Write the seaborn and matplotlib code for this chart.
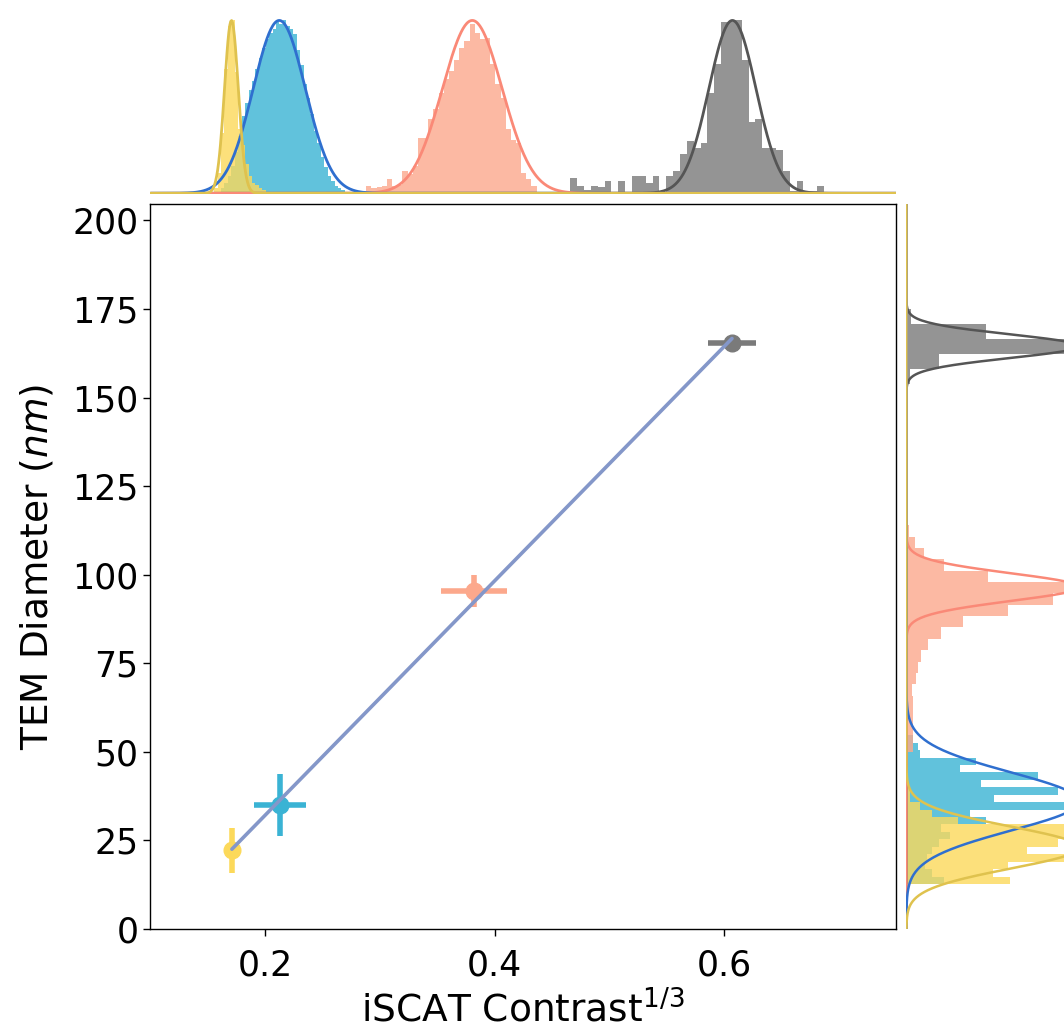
import numpy as np
import pandas as pd
import matplotlib
matplotlib.use('Agg')
import matplotlib.pyplot as plt
import seaborn as sns

# mean particle values with spread
contrast = [0.171, 0.213, 0.382, 0.607]
contrast_err = [0.004, 0.0225, 0.029, 0.021]
diameter = [22.2, 35.0, 95.4, 165.3]
diameter_err = [6.4, 8.7, 4.5, 2.0]

point_colors = ['#fcd95a', '#3ab3d4', '#fca88c', '#7a7a7a']
curve_colors = ['#dfc24e', '#2f6fcf', '#fa8977', '#555555']

# gaussian fits drawn on the marginals
fit_x_mean = [0.1706, 0.2123, 0.3806, 0.6074]
fit_x_sd = [0.0060, 0.0227, 0.0260, 0.0205]
fit_y_mean = [23.0, 36.0, 96.5, 164.5]
fit_y_sd = [5.9, 8.2, 3.9, 3.3]

# contrast histograms (normalised to peak), first bin edge + bin width
hx_start = [0.1555, 0.1615, 0.2837, 0.466]
hx_width = [0.003, 0.003, 0.0045, 0.00598]
hx_yellow = [0.03, 0.12, 0.35, 0.72, 0.97, 1.0, 0.70, 0.37, 0.28, 0.17, 0.10, 0.06,
             0.05, 0.03, 0.02, 0.01]
hx_cyan = [0.03, 0.06, 0.10, 0.16, 0.24, 0.33, 0.45, 0.52, 0.60, 0.65, 0.72, 0.78,
           0.84, 0.89, 0.93, 0.95, 0.99, 0.98, 1.0, 0.97, 0.95, 0.92, 0.83, 0.74,
           0.63, 0.55, 0.46, 0.36, 0.29, 0.21, 0.15, 0.10, 0.07, 0.04, 0.03, 0.02, 0.01]
hx_salmon = [0.015, 0.045, 0.03, 0.035, 0.04, 0.08, 0.04, 0.05, 0.13, 0.11, 0.16, 0.32,
             0.32, 0.43, 0.49, 0.58, 0.66, 0.71, 0.77, 0.84, 0.88, 0.98, 0.93, 0.89,
             0.90, 0.75, 0.63, 0.55, 0.37, 0.31, 0.29, 0.12, 0.08, 0.045]
hx_gray = [0.087, 0.045, 0.02, 0.045, 0.035, 0.07, 0.0, 0.07, 0.0, 0.10, 0.10, 0.06,
           0.10, 0.0, 0.10, 0.13, 0.23, 0.30, 0.26, 0.29, 0.58, 0.75, 0.99, 0.99,
           1.0, 0.77, 0.41, 0.43, 0.26, 0.26, 0.25, 0.13, 0.015, 0.07, 0.015, 0.015,
           0.045, 0.005, 0.005, 0.005]

# diameter histograms
hy_start = [12.7, 12.7, 49.9, 153.9]
hy_width = [2.1, 2.1, 3.2, 4.23]
hy_yellow = [0.60, 0.50, 0.59, 0.97, 0.70, 0.875, 0.95, 1.0, 0.30, 0.15, 0.08, 0.02, 0.02]
hy_cyan = [0.22, 0.15, 0.11, 0.12, 0.15, 0.19, 0.25, 0.20, 0.46, 0.37, 1.0, 0.51,
           0.88, 0.43, 0.76, 0.31, 0.405, 0.08, 0.065, 0.04]
hy_salmon = [0.04, 0.04, 0.04, 0.04, 0.037, 0.03, 0.055, 0.07, 0.083, 0.126, 0.20, 0.33,
             0.59, 0.85, 1.0, 0.47, 0.22, 0.10, 0.05, 0.015]
hy_gray = [0.02, 0.19, 1.0, 0.46, 0.025]

hx_all = [hx_yellow, hx_cyan, hx_salmon, hx_gray]
hy_all = [hy_yellow, hy_cyan, hy_salmon, hy_gray]

xlim = (0.1, 0.75)
ylim = (0, 204.5)

sns.set_style('ticks')
plt.rcParams['font.family'] = ['DejaVu Sans']
plt.rcParams['mathtext.fontset'] = 'dejavusans'
plt.rcParams['text.color'] = 'black'
plt.rcParams['axes.labelcolor'] = 'black'

fig = plt.figure(figsize=(10.64, 10.28), dpi=100)
ax = fig.add_axes([0.1414, 0.0963, 0.7007, 0.7048])
ax_top = fig.add_axes([0.1414, 0.8113, 0.7007, 0.1789])
ax_right = fig.add_axes([0.8512, 0.0963, 0.1728, 0.7048])


def hist_frame(start, width, counts):
    edges = start + width * np.arange(len(counts) + 1)
    df = pd.DataFrame({'v': (edges[:-1] + edges[1:]) / 2, 'w': counts})
    return df, edges.tolist()


# histograms: cyan first so yellow sits over it
order = [1, 0, 2, 3]
for k, i in enumerate(order):
    df, edges = hist_frame(hx_start[i], hx_width[i], hx_all[i])
    sns.histplot(data=df, x='v', weights='w', bins=edges, ax=ax_top,
                 color=point_colors[i], alpha=0.8, linewidth=0, zorder=1 + 0.1 * k)
    df, edges = hist_frame(hy_start[i], hy_width[i], hy_all[i])
    sns.histplot(data=df, y='v', weights='w', bins=edges, ax=ax_right,
                 color=point_colors[i], alpha=0.8, linewidth=0, zorder=1 + 0.1 * k)

# fitted curves, yellow drawn last so its zero line shows on the baseline
gx = np.linspace(xlim[0], xlim[1], 800)
gy = np.linspace(ylim[0], ylim[1], 800)
for i in [3, 2, 1, 0]:
    cx = np.exp(-0.5 * ((gx - fit_x_mean[i]) / fit_x_sd[i]) ** 2)
    ax_top.plot(gx, cx, color=curve_colors[i], lw=2, zorder=3)
    cy = np.exp(-0.5 * ((gy - fit_y_mean[i]) / fit_y_sd[i]) ** 2)
    ax_right.plot(cy, gy, color=curve_colors[i], lw=1.8, zorder=3)

ax_top.set_xlim(xlim)
ax_top.set_ylim(-0.004, 1.06)
ax_top.axis('off')
ax_right.set_ylim(ylim)
ax_right.set_xlim(-0.004, 1.06)
ax_right.axis('off')

# main panel
for i in range(4):
    ax.errorbar(contrast[i], diameter[i], xerr=contrast_err[i], yerr=diameter_err[i],
                fmt='o', ms=12, color=point_colors[i], elinewidth=4, capsize=0, zorder=2)
sns.regplot(x=np.array(contrast), y=np.array(diameter), ax=ax, scatter=False, ci=None,
            truncate=True, line_kws={'color': '#8497c9', 'lw': 2.6, 'zorder': 3})

ax.set_xlim(xlim)
ax.set_ylim(ylim)
ax.set_xticks([0.2, 0.4, 0.6])
ax.set_yticks(np.arange(0, 201, 25))
ax.tick_params(labelsize=25, length=5, width=1, colors='black')
ax.tick_params(axis='x', pad=9)
for s in ax.spines.values():
    s.set_color('black')
    s.set_linewidth(1)
ax.set_xlabel('iSCAT Contrast$^{1/3}$', fontsize=27, labelpad=6, color='black')
ax.set_ylabel('TEM Diameter ($nm$)', fontsize=27, labelpad=12, color='black')

fig.savefig('out.png', dpi=100)
